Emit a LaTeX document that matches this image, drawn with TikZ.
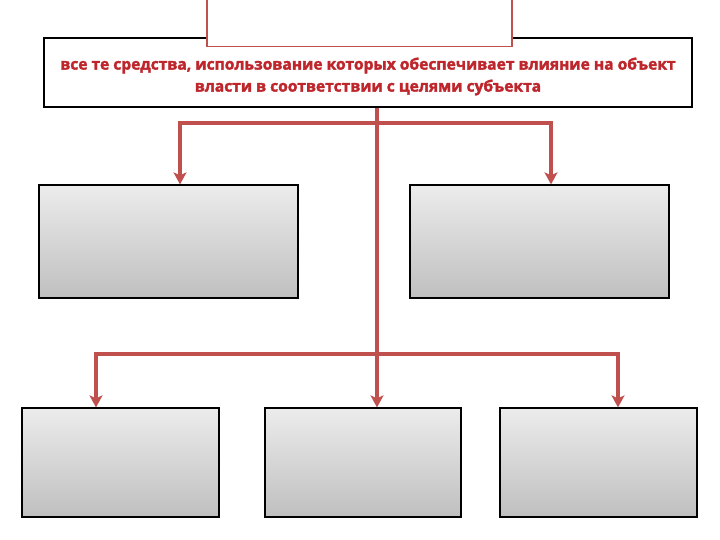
\documentclass[tikz,border=0pt]{standalone}
\usepackage{fontspec}
\newfontfamily\boxfont{Open Sans}[FakeBold=2]
\usetikzlibrary{arrows.meta, calc}

\definecolor{linkred}{RGB}{192,80,77}
\definecolor{textred}{RGB}{190,38,44}

\begin{document}
\begin{tikzpicture}[x=1pt, y=-1pt, >={Stealth[length=12pt, width=13pt, inset=3pt]},
    link/.style={linkred, line width=3.5pt},
    greybox/.style={rectangle, draw=black, line width=1.2pt, top color=gray!15, bottom color=gray!50, inner sep=0pt},
    head_text/.style={font=\boxfont\bfseries\fontsize{15.6}{22}\selectfont, textred, align=center}
]

\useasboundingbox (0,0) rectangle (720,540);

% Main definition box and the empty title box on top of it
\node[rectangle, draw=black, line width=2pt, fill=white, minimum width=648pt, minimum height=69pt, inner sep=0pt] (main) at (368,72.5) {};
\node[head_text] (deftext) at (368,76.5) {все те средства, использование которых обеспечивает влияние на объект\\власти в соответствии с целями субъекта};
\node[rectangle, draw=linkred, line width=1.5pt, fill=white, minimum width=305pt, minimum height=47pt, inner sep=0pt] (title) at (359.5,23) {};

% Second row
\node[greybox, minimum width=259pt, minimum height=113pt] (up1) at (168.5,241.5) {};
\node[greybox, minimum width=259pt, minimum height=113pt] (up2) at (539.5,241.5) {};

% Third row
\node[greybox, minimum width=197pt, minimum height=109pt] (low1) at (120.5,462.5) {};
\node[greybox, minimum width=196pt, minimum height=109pt] (low2) at (363,462.5) {};
\node[greybox, minimum width=197pt, minimum height=109pt] (low3) at (598.5,462.5) {};

% Branch points on the trunk
\coordinate (fork1) at (377,123);
\coordinate (fork2) at (377,354);

% Connectors
\draw[link, ->] (fork1 |- main.south) -- (fork1 |- low2.north);
\draw[link, ->] (fork1) -| ([xshift=11.5pt]up1.north);
\draw[link, ->] (fork1) -| ([xshift=11.5pt]up2.north);
\draw[link, ->] (fork2) -| ([xshift=-24.5pt]low1.north);
\draw[link, ->] (fork2) -| ([xshift=19.5pt]low3.north);

\end{tikzpicture}
\end{document}
